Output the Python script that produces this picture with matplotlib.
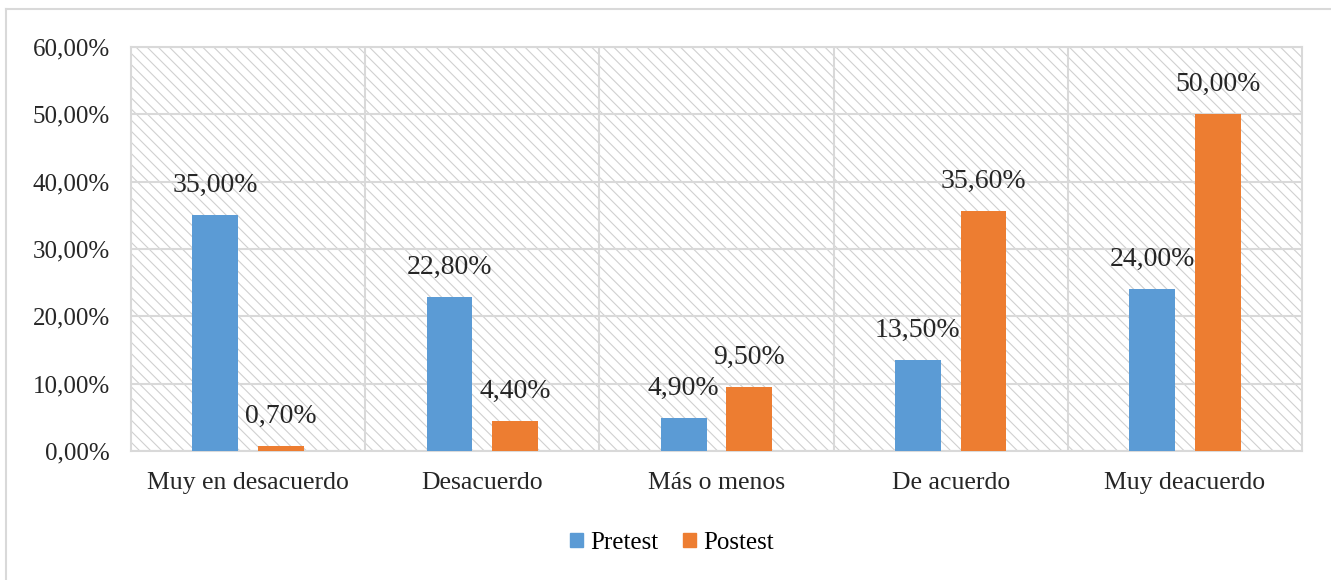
import matplotlib
matplotlib.use("Agg")
import matplotlib.pyplot as plt
from matplotlib.patches import Rectangle
from matplotlib.lines import Line2D
import numpy as np

categories = ["Muy en desacuerdo", "Desacuerdo", "Más o menos", "De acuerdo", "Muy deacuerdo"]
pretest = [35.0, 22.8, 4.9, 13.5, 24.0]
postest = [0.7, 4.4, 9.5, 35.6, 50.0]
series_names = ["Pretest", "Postest"]
yticks = [0, 10, 20, 30, 40, 50, 60]

c_pre = "#5b9bd5"
c_post = "#ed7d31"
grid_c = "#d9d9d9"
txt_c = "#262626"

plt.rcParams["font.family"] = ["Liberation Serif", "DejaVu Serif"]
plt.rcParams["hatch.linewidth"] = 0.8
plt.rcParams["hatch.color"] = "#d0d0d0"

fig = plt.figure(figsize=(13.31, 5.8), dpi=100)
ax = fig.add_axes([131/1331, 1 - 451/580, (1302-131)/1331, (451-47)/580])

x = np.arange(len(categories))
w = 0.196
off = 0.14

# hatched background
bg = Rectangle((0, 0), 1, 1, transform=ax.transAxes, facecolor="white",
               edgecolor="#d0d0d0", hatch="\\\\\\", linewidth=0, zorder=0)
ax.add_patch(bg)

ax.set_xlim(-0.5, len(categories) - 0.5)
ax.set_ylim(0, 60)

for yv in yticks:
    ax.axhline(yv, color=grid_c, lw=1.5, zorder=1)
for xv in np.arange(0.5, len(categories) - 0.5, 1):
    ax.axvline(xv, color=grid_c, lw=1.5, zorder=1)

b1 = ax.bar(x - off, pretest, w, color=c_pre, zorder=3, label=series_names[0])
b2 = ax.bar(x + off, postest, w, color=c_post, zorder=3, label=series_names[1])

def fmt(v):
    return f"{v:.2f}".replace(".", ",") + "%"

for bars, vals in ((b1, pretest), (b2, postest)):
    for r, v in zip(bars, vals):
        ax.annotate(fmt(v), (r.get_x() + r.get_width() / 2, v), xytext=(0, 30),
                    textcoords="offset pixels", ha="center", va="center",
                    fontsize=20, color=txt_c, zorder=4)

ax.set_yticks(yticks)
ax.set_yticklabels([fmt(v) for v in yticks], fontsize=18, color=txt_c)
ax.set_xticks(x)
ax.set_xticklabels(categories, fontsize=18.5, color=txt_c)
ax.tick_params(axis="x", length=0, pad=15)
ax.tick_params(axis="y", length=0, pad=15)
for s in ax.spines.values():
    s.set_color(grid_c)
    s.set_linewidth(1.5)

handles = [Rectangle((0, 0), 1, 1, color=c_pre), Rectangle((0, 0), 1, 1, color=c_post)]
fig.legend(handles, series_names, loc="center", bbox_to_anchor=(672/1331, 1 - 543/580),
           ncol=2, frameon=False, fontsize=18, handlelength=0.5, handleheight=0.5,
           handletextpad=0.3, columnspacing=1.0)

# figure border
fig.add_artist(Line2D([5.5/1331, 5.5/1331], [0, 1 - 9/580], transform=fig.transFigure,
                      color=grid_c, lw=1.5))
fig.add_artist(Line2D([5.5/1331, 1], [1 - 9/580, 1 - 9/580], transform=fig.transFigure,
                      color=grid_c, lw=1.5))

fig.savefig("out.png", dpi=100)
